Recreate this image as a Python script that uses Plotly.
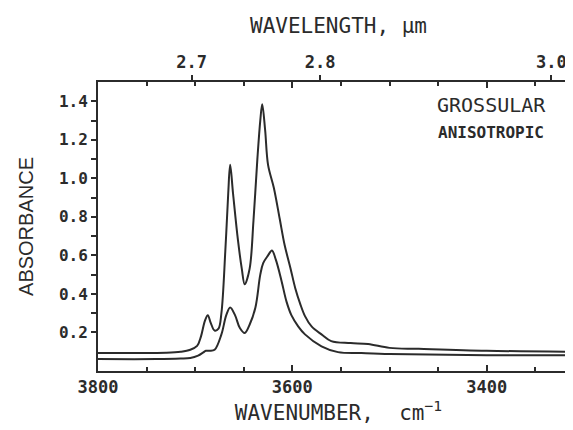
import plotly.graph_objects as go

# ---- data ----
upper_wavenumber = [3800, 3760, 3730, 3715, 3705, 3698, 3694, 3690, 3687, 3684, 3680, 3676,
                    3673, 3669, 3666, 3664, 3661, 3656, 3652, 3649, 3644, 3640, 3636, 3633,
                    3631, 3628, 3625, 3619, 3613, 3608, 3602, 3597, 3592, 3587, 3580, 3570,
                    3560, 3540, 3522, 3500, 3470, 3400, 3305]
upper_absorbance = [0.093, 0.093, 0.095, 0.10, 0.11, 0.13, 0.18, 0.26, 0.29, 0.25, 0.21, 0.22,
                    0.30, 0.62, 0.92, 1.07, 0.92, 0.68, 0.53, 0.45, 0.53, 0.78, 1.10, 1.30,
                    1.385, 1.25, 1.07, 0.95, 0.79, 0.655, 0.535, 0.43, 0.35, 0.285, 0.23, 0.19,
                    0.155, 0.145, 0.14, 0.12, 0.115, 0.105, 0.10]

lower_wavenumber = [3800, 3740, 3715, 3705, 3697, 3692, 3689, 3685, 3680, 3673, 3668, 3664,
                    3659, 3654, 3649, 3644, 3638, 3633, 3630, 3625, 3621, 3617, 3611, 3606,
                    3601, 3594, 3587, 3570, 3553, 3529, 3500, 3460, 3400, 3305]
lower_absorbance = [0.062, 0.062, 0.065, 0.068, 0.08, 0.095, 0.105, 0.105, 0.11, 0.19, 0.29, 0.33,
                    0.29, 0.223, 0.197, 0.24, 0.33, 0.50, 0.56, 0.60, 0.625, 0.578, 0.465, 0.36,
                    0.29, 0.232, 0.19, 0.128, 0.098, 0.093, 0.088, 0.085, 0.082, 0.081]

wavenumber_ticks = [3800, 3600, 3400]
wavelength_ticks = [2.7, 2.8, 3.0]
wavelength_labels = ["2.7", "2.8", "3.0"]
absorbance_ticks = [0.2, 0.4, 0.6, 0.8, 1.0, 1.2, 1.4]
absorbance_minor = [0.3, 0.5, 0.7, 0.9, 1.1, 1.3]
absorbance_all = [0.2, 0.3, 0.4, 0.5, 0.6, 0.7, 0.8, 0.9, 1.0, 1.1, 1.2, 1.3, 1.4]

XR = [3800, 3305]
YR = [0, 1.5]
INK = "#2b2b2b"
MONO = "DejaVu Sans Mono"

fig = go.Figure()
for xs, ys in [(upper_wavenumber, upper_absorbance), (lower_wavenumber, lower_absorbance)]:
    fig.add_trace(go.Scatter(x=xs, y=ys, mode="lines", line=dict(color=INK, width=2),
                             line_shape="spline", showlegend=False, hoverinfo="skip"))

# invisible trace to anchor the top wavelength axis
fig.add_trace(go.Scatter(x=[XR[0]], y=[YR[0]], xaxis="x2", yaxis="y2", mode="markers",
                         marker=dict(opacity=0), showlegend=False, hoverinfo="skip"))

fig.update_layout(
    width=573, height=430,
    margin=dict(l=90, r=2, t=74, b=67),
    paper_bgcolor="white", plot_bgcolor="white",
    xaxis=dict(range=XR, tickvals=wavenumber_ticks, ticks="inside", ticklen=6, tickwidth=1.5,
               tickcolor=INK, showline=True, linewidth=2, linecolor=INK, mirror="ticks",
               showgrid=False, zeroline=False,
               tickfont=dict(family=MONO, size=17, color=INK, weight="bold"),
               minor=dict(dtick=50, ticks="inside", ticklen=4, tickwidth=1.5, tickcolor=INK, showgrid=False),
               title=dict(text="WAVENUMBER,  cm<sup>−1</sup>", font=dict(family=MONO, size=21, color=INK), standoff=8)),
    xaxis2=dict(range=XR, overlaying="x", side="top", anchor="y",
                tickvals=[10000 / w for w in wavelength_ticks], ticktext=wavelength_labels,
                ticks="outside", ticklen=6, tickwidth=1.5, tickcolor=INK, showline=False,
                showgrid=False, zeroline=False,
                tickfont=dict(family=MONO, size=17, color=INK, weight="bold"),
                title=dict(text="WAVELENGTH, µm", font=dict(family=MONO, size=21, color=INK), standoff=12)),
    yaxis=dict(range=YR, tickvals=absorbance_ticks, tickformat=".1f", ticks="outside", ticklen=5,
               tickwidth=1.5, tickcolor=INK, showline=True, linewidth=2, linecolor=INK,
               showgrid=False, zeroline=False,
               tickfont=dict(family=MONO, size=16, color=INK, weight="bold"),
               minor=dict(tickvals=absorbance_minor, ticks="outside", ticklen=5, tickwidth=1.5,
                          tickcolor=INK, showgrid=False),
               title=dict(text="ABSORBANCE", font=dict(family="Liberation Sans", size=20, color=INK), standoff=20)),
    yaxis2=dict(range=YR, overlaying="y", side="right", anchor="x", tickvals=absorbance_all,
                ticks="inside", ticklen=5, tickwidth=1.5, tickcolor=INK, showticklabels=False,
                showline=True, linewidth=2, linecolor=INK, showgrid=False, zeroline=False),
)

fig.add_annotation(text="GROSSULAR", xref="paper", yref="paper", x=(483 - 90) / 481, y=(363 - 97) / 289,
                   showarrow=False, font=dict(family=MONO, size=20, color=INK), xanchor="center", yanchor="middle")
fig.add_annotation(text="ANISOTROPIC", xref="paper", yref="paper", x=(483 - 90) / 481, y=(363 - 124) / 289,
                   showarrow=False, font=dict(family=MONO, size=16, color=INK, weight="bold"),
                   xanchor="center", yanchor="middle")

fig.write_html("out.html")
